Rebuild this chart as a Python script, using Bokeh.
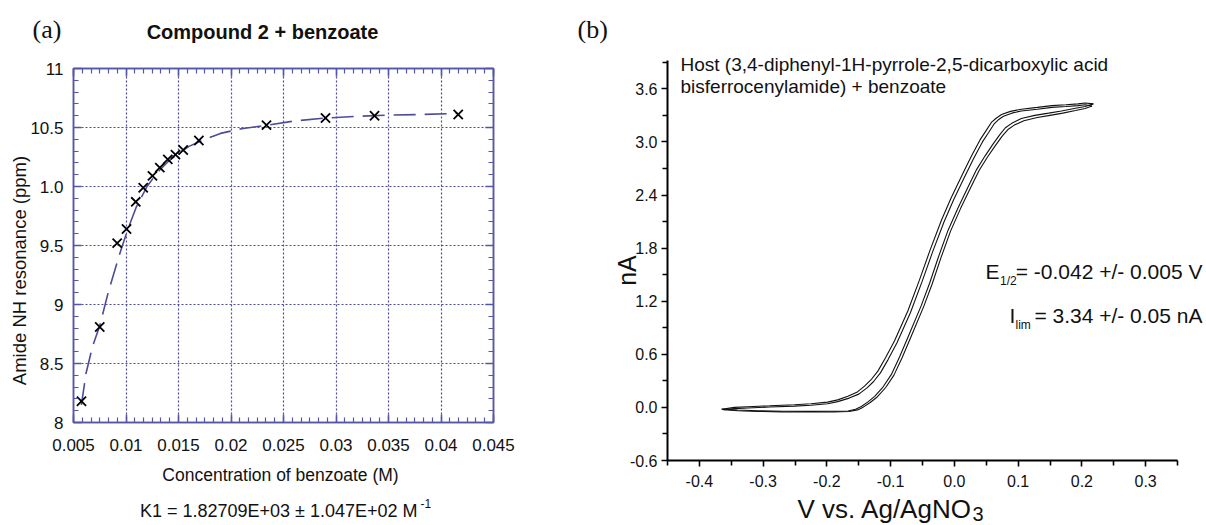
import math
from bokeh.plotting import figure
from bokeh.models import Range1d, LinearAxis, FixedTicker, Label
from bokeh.embed import file_html
from bokeh.resources import INLINE

# ---------------- Panel (a) data ----------------
conc = [0.00576, 0.0075, 0.00916, 0.01005, 0.01093, 0.01164, 0.01252, 0.01322,
        0.01398, 0.01471, 0.01545, 0.01694, 0.02338, 0.0290, 0.03367, 0.04164]
shift = [8.18, 8.81, 9.52, 9.64, 9.87, 9.99, 10.09, 10.16,
         10.23, 10.27, 10.31, 10.39, 10.52, 10.58, 10.60, 10.61]
fit_conc = [0.00575, 0.0062, 0.0068, 0.0075, 0.0083, 0.0093, 0.0101, 0.0110, 0.0120,
            0.0130, 0.0140, 0.0150, 0.0160, 0.0175, 0.0190, 0.0210, 0.0235, 0.0260,
            0.0290, 0.0320, 0.0350, 0.0380, 0.0416]
fit_shift = [8.15, 8.42, 8.64, 8.82, 9.10, 9.40, 9.62, 9.83, 10.00,
             10.12, 10.21, 10.28, 10.34, 10.40, 10.45, 10.49, 10.52, 10.555,
             10.58, 10.595, 10.605, 10.61, 10.62]
xa_ticks = [0.005, 0.01, 0.015, 0.02, 0.025, 0.03, 0.035, 0.04, 0.045]
xa_labels = ["0.005", "0.01", "0.015", "0.02", "0.025", "0.03", "0.035", "0.04", "0.045"]
ya_ticks = [8, 8.5, 9, 9.5, 10, 10.5, 11]
ya_labels = ["8", "8.5", "9", "9.5", "1.0", "10.5", "11"]

# ---------------- Panel (b) data ----------------
cv1_fwd_v = [-0.365, -0.340, -0.309, -0.270, -0.225, -0.190, -0.167, -0.155, -0.146, -0.136,
             -0.125, -0.112, -0.099, -0.086, -0.073, -0.052, -0.039, -0.025, -0.010, 0.006,
             0.022, 0.035, 0.048, 0.060, 0.071, 0.080, 0.090, 0.105, 0.126, 0.148,
             0.168, 0.190, 0.205, 0.218]
cv1_fwd_i = [-0.020, -0.030, -0.038, -0.043, -0.045, -0.044, -0.040, -0.020, 0.010, 0.060,
             0.125, 0.230, 0.370, 0.570, 0.790, 1.150, 1.400, 1.700, 2.000, 2.260,
             2.500, 2.690, 2.840, 2.970, 3.080, 3.160, 3.210, 3.265, 3.300, 3.325,
             3.350, 3.380, 3.400, 3.430]
cv1_rev_v = [0.218, 0.205, 0.194, 0.175, 0.153, 0.130, 0.105, 0.088, 0.074, 0.066,
             0.058, 0.050, 0.040, 0.026, 0.011, -0.005, -0.020, -0.038, -0.055, -0.073,
             -0.094, -0.108, -0.120, -0.131, -0.141, -0.153, -0.167, -0.183, -0.199, -0.225,
             -0.251, -0.290, -0.324, -0.345, -0.365]
cv1_rev_i = [3.430, 3.440, 3.430, 3.420, 3.410, 3.390, 3.370, 3.345, 3.310, 3.270,
             3.220, 3.130, 3.020, 2.830, 2.610, 2.370, 2.120, 1.780, 1.435, 1.090,
             0.750, 0.560, 0.410, 0.310, 0.240, 0.170, 0.125, 0.085, 0.060, 0.042,
             0.030, 0.018, 0.008, 0.000, -0.020]
cv2_fwd_v = [-0.362, -0.340, -0.309, -0.270, -0.225, -0.190, -0.165, -0.152, -0.143, -0.132,
             -0.121, -0.108, -0.095, -0.082, -0.069, -0.048, -0.035, -0.021, -0.006, 0.010,
             0.026, 0.039, 0.052, 0.064, 0.075, 0.084, 0.094, 0.109, 0.130, 0.150,
             0.170, 0.190, 0.205, 0.216]
cv2_fwd_i = [-0.025, -0.038, -0.046, -0.050, -0.052, -0.051, -0.047, -0.028, 0.003, 0.055,
             0.118, 0.222, 0.362, 0.562, 0.782, 1.142, 1.392, 1.692, 1.992, 2.252,
             2.490, 2.680, 2.830, 2.955, 3.065, 3.140, 3.190, 3.240, 3.275, 3.300,
             3.325, 3.355, 3.378, 3.405]
cv2_rev_v = [0.216, 0.205, 0.194, 0.175, 0.153, 0.130, 0.105, 0.090, 0.077, 0.069,
             0.062, 0.054, 0.044, 0.030, 0.015, -0.001, -0.016, -0.034, -0.051, -0.069,
             -0.090, -0.104, -0.116, -0.127, -0.137, -0.150, -0.165, -0.183, -0.199, -0.225,
             -0.251, -0.290, -0.324, -0.345, -0.362]
cv2_rev_i = [3.405, 3.420, 3.410, 3.400, 3.390, 3.370, 3.350, 3.325, 3.290, 3.250,
             3.200, 3.110, 3.000, 2.810, 2.590, 2.350, 2.100, 1.760, 1.415, 1.070,
             0.730, 0.540, 0.390, 0.290, 0.220, 0.150, 0.105, 0.065, 0.042, 0.025,
             0.014, 0.004, -0.006, -0.014, -0.025]
xb_ticks = [-0.4, -0.3, -0.2, -0.1, 0.0, 0.1, 0.2, 0.3]
xb_labels = ["-0.4", "-0.3", "-0.2", "-0.1", "0.0", "0.1", "0.2", "0.3"]
yb_ticks = [-0.6, 0.0, 0.6, 1.2, 1.8, 2.4, 3.0, 3.6]
yb_labels = ["-0.6", "0.0", "0.6", "1.2", "1.8", "2.4", "3.0", "3.6"]

SANS = "Liberation Sans"
SERIF = "Liberation Serif"
BLUE = "#5656a8"
GRIDC = "#4a4aa0"
FITC = "#4c4c98"
W, H = 1206, 525

# ---------------- Panel (a) ----------------
xa_minor = [round(0.005 + k * 0.005 / 6, 6) for k in range(0, 49)]
ya_minor = [round(8 + k * 0.1, 3) for k in range(0, 31)]

pa = figure(width=573, height=H, x_range=Range1d(0.005, 0.045), y_range=Range1d(8, 11),
            output_backend="svg", toolbar_location=None,
            min_border_left=73, min_border_right=80, min_border_top=68, min_border_bottom=103)
pa.outline_line_color = BLUE
pa.outline_line_width = 1.5
pa.styles = {"position": "absolute", "left": "0px", "top": "0px"}


def style_a(ax, ticks, labels, minor, show):
    ax.ticker = FixedTicker(ticks=ticks, minor_ticks=minor)
    ax.axis_line_color = BLUE
    ax.axis_line_width = 1.5
    ax.major_tick_line_color = BLUE
    ax.minor_tick_line_color = BLUE
    ax.major_tick_line_width = 1.5
    ax.minor_tick_line_width = 1.2
    ax.major_tick_in = 8
    ax.major_tick_out = 0
    ax.minor_tick_in = 5
    ax.minor_tick_out = 0
    ax.major_label_overrides = dict(zip(ticks, labels))
    ax.major_label_text_font = SANS
    if show:
        ax.major_label_text_font_size = "17px"
        ax.major_label_text_color = "#111111"
    else:
        ax.major_label_text_font_size = "8px"
        ax.major_label_text_color = None
        ax.major_label_standoff = 0


style_a(pa.xaxis[0], xa_ticks, xa_labels, xa_minor, True)
pa.xaxis[0].major_label_standoff = 16
style_a(pa.yaxis[0], ya_ticks, ya_labels, ya_minor, True)
pa.yaxis[0].major_label_standoff = 10
top_ax = LinearAxis()
style_a(top_ax, xa_ticks, xa_labels, xa_minor, False)
pa.add_layout(top_ax, "above")
right_ax = LinearAxis()
style_a(right_ax, ya_ticks, ya_labels, ya_minor, False)
pa.add_layout(right_ax, "right")

for g in (pa.xgrid[0], pa.ygrid[0]):
    g.grid_line_color = GRIDC
    g.grid_line_dash = "2 2"
    g.grid_line_width = 1.2
pa.xgrid[0].ticker = FixedTicker(ticks=xa_ticks)
pa.ygrid[0].ticker = FixedTicker(ticks=ya_ticks)

pa.line(fit_conc, fit_shift, line_color=FITC, line_width=1.6, line_dash="22 9")
pa.scatter(conc, shift, marker="x", size=13, line_color="black", line_width=1.8)

# ---------------- Panel (b) ----------------
xb_minor = [-0.45, -0.35, -0.25, -0.15, -0.05, 0.05, 0.15, 0.25, 0.35]
yb_minor = [-0.3, 0.3, 0.9, 1.5, 2.1, 2.7, 3.3, 3.9]

pb = figure(width=633, height=H, x_range=Range1d(-0.45, 0.35), y_range=Range1d(-0.6, 3.92),
            output_backend="svg", toolbar_location=None,
            min_border_left=94, min_border_right=29, min_border_top=60, min_border_bottom=65)
pb.outline_line_color = None
pb.xgrid.visible = False
pb.ygrid.visible = False
pb.styles = {"position": "absolute", "left": "573px", "top": "0px"}


def style_b(ax, ticks, labels, minor):
    ax.ticker = FixedTicker(ticks=ticks, minor_ticks=minor)
    ax.major_label_overrides = dict(zip(ticks, labels))
    ax.axis_line_color = "black"
    ax.axis_line_width = 2
    ax.major_tick_line_color = "black"
    ax.minor_tick_line_color = "black"
    ax.major_tick_line_width = 1.6
    ax.minor_tick_line_width = 1.6
    ax.major_tick_in = 0
    ax.major_tick_out = 6
    ax.minor_tick_in = 0
    ax.minor_tick_out = 5
    ax.major_label_text_font = SANS
    ax.major_label_text_font_size = "16px"
    ax.major_label_text_color = "#111111"


style_b(pb.xaxis[0], xb_ticks, xb_labels, xb_minor)
pb.xaxis[0].major_label_standoff = 8
style_b(pb.yaxis[0], yb_ticks, yb_labels, yb_minor)
pb.yaxis[0].major_label_standoff = 4

for vv, ii in ((cv1_fwd_v, cv1_fwd_i), (cv1_rev_v, cv1_rev_i),
               (cv2_fwd_v, cv2_fwd_i), (cv2_rev_v, cv2_rev_i)):
    pb.line(vv, ii, line_color="#111111", line_width=1.1)

# ---------------- Text layer (page pixel positions, y = vertical centre) ----------------
pt = figure(width=W, height=H, x_range=Range1d(0, W), y_range=Range1d(0, H),
            output_backend="svg", toolbar_location=None,
            x_axis_location=None, y_axis_location=None,
            min_border_left=0, min_border_right=0, min_border_top=0, min_border_bottom=0)
pt.outline_line_color = None
pt.background_fill_color = None
pt.border_fill_color = None
pt.xgrid.visible = False
pt.ygrid.visible = False
pt.styles = {"position": "absolute", "left": "0px", "top": "0px", "pointer-events": "none"}


def lab(text, x, y, size, font=SANS, align="left", angle=0.0, style="normal",
        color="#111111"):
    pt.add_layout(Label(x=x, y=H - y, x_units="screen", y_units="screen", text=text,
                        text_font=font, text_font_size=size, text_align=align,
                        text_baseline="middle", angle=angle, text_font_style=style,
                        text_color=color))


# panel (a) texts
lab("(a)", 32, 29, "26px", font=SERIF)
lab("Compound 2 + benzoate", 262, 31, "20px", align="center", style="bold")
lab("Amide NH resonance (ppm)", 19, 270, "18.5px", align="center", angle=math.pi / 2)
lab("Concentration of benzoate (M)", 280, 474, "17.5px", align="center")
lab("K1 = 1.82709E+03 \u00b1 1.047E+02 M", 417, 510, "18px", align="right")
lab("-1", 420, 503, "12px")
# panel (b) texts
lab("(b)", 577, 29, "26px", font=SERIF)
lab("Host (3,4-diphenyl-1H-pyrrole-2,5-dicarboxylic acid", 680, 63.5, "19px")
lab("bisferrocenylamide) + benzoate", 680, 85.5, "19px")
lab("E", 985, 270.5, "21px")
lab("1/2", 999.5, 280, "12px")
lab("= -0.042 +/- 0.005 V", 1202, 270.5, "21px", align="right")
lab("I", 1009, 314.5, "21px")
lab("lim", 1015, 324, "12px")
lab("= 3.34 +/- 0.05 nA", 1202, 314.5, "21px", align="right")
lab("nA", 626, 270, "25px", align="center", angle=math.pi / 2)
lab("V vs. Ag/AgNO", 797, 508, "26px")
lab("3", 972, 513, "20px")

open("out.html", "w").write(file_html([pa, pb, pt], INLINE))
